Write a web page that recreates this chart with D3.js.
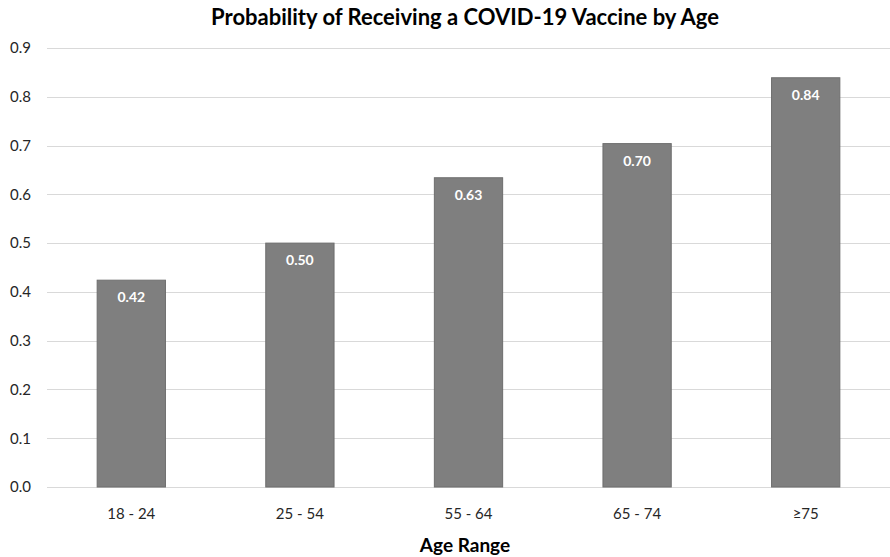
<!DOCTYPE html>
<html>
<head>
<meta charset="utf-8">
<script src="https://cdn.jsdelivr.net/npm/d3@7"></script>
<style>
  body { margin: 0; background: #fff; }
  text { font-family: Lato, "Open Sans", sans-serif; }
</style>
</head>
<body>
<div id="chart"></div>
<script>
// categories and values
var ageRanges = ["18 - 24", "25 - 54", "55 - 64", "65 - 74", "\u226575"];
var probabilities = [0.424, 0.500, 0.634, 0.704, 0.839];
var yTicks = [0, 0.1, 0.2, 0.3, 0.4, 0.5, 0.6, 0.7, 0.8, 0.9];

var W = 890, H = 557;
var margin = { top: 48, right: 0, bottom: 70, left: 47 };

var svg = d3.select("#chart")
  .append("svg")
  .attr("width", W)
  .attr("height", H);

var x = d3.scaleBand()
  .domain(ageRanges)
  .range([margin.left, W - margin.right])
  .paddingInner(0.595)
  .paddingOuter(0.2975);

var y = d3.scaleLinear()
  .domain([0, 0.9])
  .range([H - margin.bottom, margin.top]);

// gridlines
svg.append("g")
  .selectAll("line")
  .data(yTicks)
  .enter().append("line")
  .attr("x1", margin.left)
  .attr("x2", W - margin.right)
  .attr("y1", function (d) { return Math.round(y(d)) + 0.5; })
  .attr("y2", function (d) { return Math.round(y(d)) + 0.5; })
  .attr("stroke", "#d9d9d9")
  .attr("stroke-width", 1);

// y axis labels
var yAxis = svg.append("g")
  .attr("transform", "translate(" + 31 + ",0)")
  .call(d3.axisLeft(y).tickValues(yTicks).tickFormat(d3.format(".1f")).tickSize(0));
yAxis.select(".domain").remove();
yAxis.selectAll("text")
  .attr("x", 0)
  .style("font-size", "15px")
  .style("fill", "#262626");

// x axis labels
var xAxis = svg.append("g")
  .attr("transform", "translate(0," + (H - margin.bottom) + ")")
  .call(d3.axisBottom(x).tickSize(0));
xAxis.select(".domain").remove();
xAxis.selectAll("text")
  .attr("dy", "1.9em")
  .style("font-size", "15px")
  .style("fill", "#262626");

// bars
svg.append("g")
  .selectAll("rect")
  .data(probabilities)
  .enter().append("rect")
  .attr("x", function (d, i) { return x(ageRanges[i]); })
  .attr("y", function (d) { return y(d); })
  .attr("width", x.bandwidth())
  .attr("height", function (d) { return y(0) - y(d); })
  .attr("fill", "#7f7f7f")
  .attr("stroke", "#6e6e6e")
  .attr("stroke-width", 1);

// value labels
svg.append("g")
  .selectAll("text")
  .data(probabilities)
  .enter().append("text")
  .attr("x", function (d, i) { return x(ageRanges[i]) + x.bandwidth() / 2; })
  .attr("y", function (d) { return y(d) + 22; })
  .attr("text-anchor", "middle")
  .style("font-size", "14px")
  .style("font-weight", "bold")
  .style("fill", "#ffffff")
  .text(function (d) { return d3.format(".2f")(d); });

// title
svg.append("text")
  .attr("x", 465)
  .attr("y", 25)
  .attr("text-anchor", "middle")
  .style("font-size", "22px")
  .style("font-weight", "bold")
  .style("fill", "#000")
  .text("Probability of Receiving a COVID-19 Vaccine by Age");

// x axis title
svg.append("text")
  .attr("x", 465)
  .attr("y", 552)
  .attr("text-anchor", "middle")
  .style("font-size", "19px")
  .style("font-weight", "bold")
  .style("fill", "#000")
  .text("Age Range");
</script>
</body>
</html>
